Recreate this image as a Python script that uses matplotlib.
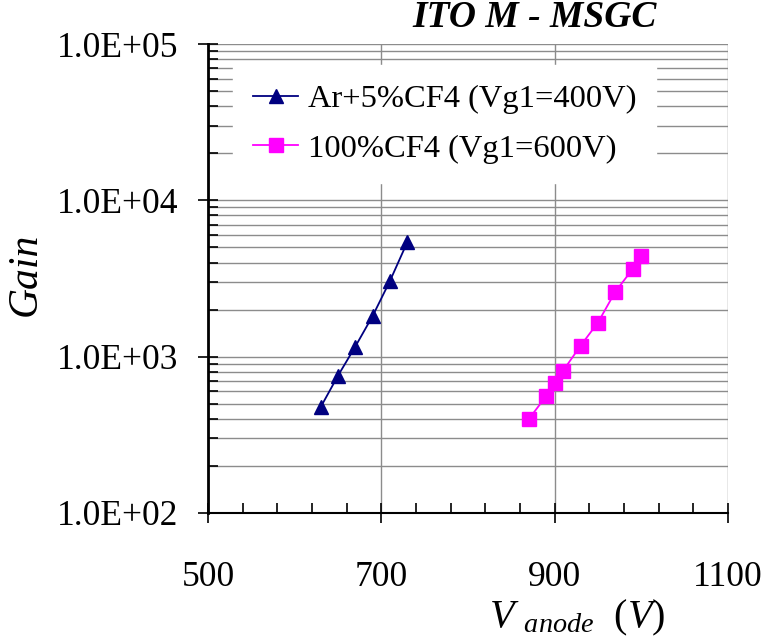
import math

import matplotlib
matplotlib.use("Agg")
import matplotlib.pyplot as plt
from matplotlib.ticker import FixedLocator, LogLocator, FuncFormatter, NullFormatter

# Gain curves of the ITO M - MSGC for two gas mixtures
ar_label = "Ar+5%CF4 (Vg1=400V)"
ar_vanode = [630, 650, 670, 690, 710, 730]
ar_gain = [475, 755, 1160, 1820, 3050, 5400]

cf4_label = "100%CF4 (Vg1=600V)"
cf4_vanode = [870, 890, 900, 910, 930, 950, 970, 990, 1000]
cf4_gain = [397, 556, 683, 815, 1175, 1650, 2595, 3630, 4400]

x_major = [500, 700, 900, 1100]
x_minor = [540, 580, 620, 660, 740, 780, 820, 860, 940, 980, 1020, 1060]

plt.rcParams["font.family"] = ["Liberation Serif", "DejaVu Serif"]
plt.rcParams["mathtext.fontset"] = "custom"
plt.rcParams["mathtext.it"] = "Liberation Serif:italic"
plt.rcParams["mathtext.rm"] = "Liberation Serif"

fig = plt.figure(figsize=(7.69, 6.38), dpi=100)
ax = fig.add_axes([0.2705, 0.196, 0.676, 0.735])

ax.plot(ar_vanode, ar_gain, color="#000080", lw=1.3, marker="^",
        markersize=10, label=ar_label, zorder=3)
ax.plot(cf4_vanode, cf4_gain, color="#ff00ff", lw=1.3, marker="s",
        markersize=9.5, label=cf4_label, zorder=3)

ax.set_yscale("log")
ax.set_xlim(500, 1100)
ax.set_ylim(100, 1e5)

ax.xaxis.set_major_locator(FixedLocator(x_major))
ax.xaxis.set_minor_locator(FixedLocator(x_minor))
ax.yaxis.set_major_locator(LogLocator(base=10))
ax.yaxis.set_minor_locator(LogLocator(base=10, subs=range(2, 10)))
ax.yaxis.set_major_formatter(
    FuncFormatter(lambda v, _: "1.0E+%02d" % round(math.log10(v))))
ax.yaxis.set_minor_formatter(NullFormatter())

grid_col = "#8c8c8c"
ax.grid(True, which="major", axis="x", color=grid_col, lw=1)
ax.grid(True, which="both", axis="y", color=grid_col, lw=1)
ax.set_axisbelow(True)

for side in ("top", "right"):
    ax.spines[side].set_visible(False)
ax.spines["left"].set_linewidth(2)
ax.spines["bottom"].set_linewidth(1.5)

ax.tick_params(axis="both", which="major", direction="inout", length=15,
               width=1.2, labelsize=25.5)
ax.tick_params(axis="both", which="minor", direction="in", length=7, width=1.2)
ax.tick_params(axis="y", which="major", pad=14)
ax.tick_params(axis="x", which="major", pad=27)

fig.text(25 / 769, 1 - 274 / 638, "Gain", fontsize=30, style="italic",
         rotation=90, ha="center", va="center")
fig.text(577 / 769, 1 - 618 / 638, r"$V$ $_{anode}$  $(V)$", fontsize=29,
         ha="center", va="center")
fig.text(0.854, 0.973, "ITO M - MSGC", fontsize=27, fontweight="bold",
         style="italic", ha="right", va="center")

leg = ax.legend(loc="upper left", bbox_to_anchor=(0.049, 0.955),
                borderaxespad=0, fontsize=23.4, frameon=True, fancybox=False,
                edgecolor="white", framealpha=1, borderpad=0.6,
                handlelength=1.4, handletextpad=0.3, labelspacing=0.6)

fig.savefig("out.png", dpi=100)
